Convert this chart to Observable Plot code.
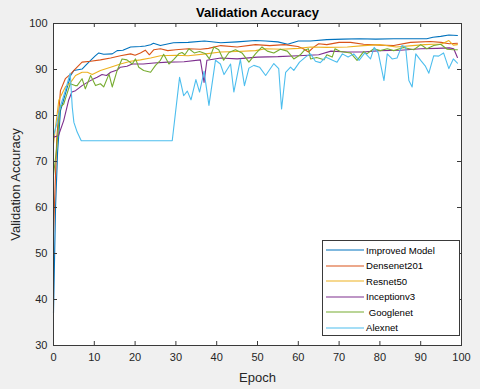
<!DOCTYPE html>
<html><head><meta charset="utf-8">
<script src="https://cdn.jsdelivr.net/npm/d3@7"></script>
<script src="https://cdn.jsdelivr.net/npm/@observablehq/plot@0.6"></script>
<style>
body{margin:0;background:#f0f0f0;font-family:"Liberation Sans",Arial,sans-serif;}
#wrap{position:relative;width:480px;height:389px;overflow:hidden;}
#legend{position:absolute;left:322px;top:240px;width:136px;height:94px;background:#fff;border:1px solid #3a3a3a;font-size:9.6px;color:#000;}
.entry{position:absolute;left:3px;height:14px;display:flex;align-items:center;white-space:pre;}
.entry svg{margin-right:2px;}
</style></head><body><div id="wrap"></div>
<script>
const xTicks = [0,10,20,30,40,50,60,70,80,90,100];
const yTicks = [30,40,50,60,70,80,90,100];
const seriesNames = ["Improved Model","Densenet201","Resnet50","Inceptionv3"," Googlenet","Alexnet"];
const seriesColors = ["#0072BD","#D95319","#EDB120","#7E2F8E","#77AC30","#4DBEEE"];

const impEpoch = [0,0.5,1,1.7,2.9,4.2,5,7,8,9.1,10.3,11.1,12.3,14.4,15.6,17,18.9,21.3,22.5,23.8,24.5,26.2,29.4,33,37,41,45,49.5,52,55,57.4,60,63,67,71,75,79,83.4,87,91.5,93,94.9,96.9,99];
const impAcc   = [37,60,72,81,84.7,88.7,89.8,90.1,91,92,93,93.6,93.3,93.4,94.1,94.2,94.9,95,95.1,95.4,95.7,95.2,95.8,95.9,96.2,95.8,96,96.3,96.2,96,95.5,96.2,96.2,96.5,96.6,96.7,96.6,96.7,96.7,96.7,97,97.2,97.5,97.4];

const denEpoch = [0,0.8,1.7,2.9,4.2,5,7,9.1,11.5,14,16.4,18.9,20,21.3,22.5,23.5,24.6,26.2,28,30,33,36,38,41,45,49.5,53,56.6,59.9,61,62.5,63.7,65,67,70,72.8,76,80,83.4,87.5,92.4,95,97,99];
const denAcc   = [54.5,75,85.4,88,89,89.8,91.6,91.8,92.1,92.5,93,93.4,93.1,93.6,94.2,93.2,94.3,94.5,94.1,94.3,94.5,94.4,94.6,95.2,94.9,95.4,95.2,95.4,95,94.6,93.8,94.8,95.6,95.4,95.9,95.9,95.5,95.3,95.2,95.9,96.1,95.9,95.6,95.7];

const resEpoch = [0,1.3,2.9,4.2,5.4,7,8.3,9.5,11.5,14,16.4,18.9,21.3,23.8,26.2,30,33,37.3,41,45,49.5,52,56,60,63,67,72,76,80,84,88,91,93,95,96.9,98,99];
const resAcc   = [73.8,83.3,86.2,87.2,88.7,89.4,89.4,88.9,89.8,90.5,91.2,91.8,92.1,92.5,93,93.1,93,93.4,93.8,93.9,94.1,94.5,94.4,94.6,94.9,94.8,94.9,95.2,95.4,94.9,95.2,95.4,95.5,95.5,96.3,95.3,95.4];

const incEpoch = [0,1.2,2.5,3.7,4.5,5.4,7,8.3,9.5,10.7,11.9,13,14,15.6,16.4,18,19.3,22,24.6,28,32,36,36.9,37.6,41,45,50,55,60,65,68,72,76,80,85,90,94,97,98.1,99];
const incAcc   = [75.3,75.6,78.9,83.3,85.1,85.4,86.5,87.2,87.8,88.3,88.9,88.7,89.4,89.9,90.5,90.7,91.2,91.2,91.4,91.6,91.7,92.1,87.2,92,92.5,92.3,92.7,92.8,93,93.2,94,93.8,93.8,94.1,94.2,94.5,94.6,94.7,94.5,92.6];

const gooEpoch = [0,0.8,1.6,2.5,3.3,4.1,5.3,5.8,7,7.8,9.1,10.3,11.5,12.3,13.6,14.4,15.6,16.8,18,19.3,20.1,20.9,22.1,23.8,25,26.2,27,28.3,29.5,30.7,31.5,32.2,33.2,34.5,35.8,37.3,38.2,39.3,40.5,41.7,43,44.6,46.2,47.9,49.5,51.1,52.4,54,55.6,57.3,58.9,60.5,61.5,62.5,63,64.5,66.3,67,68.3,69,70.3,72.8,74.4,76,76.8,78.5,80.1,81.8,83.4,85.8,88.3,90,91.5,93.2,94.9,96.5,98,99];
const gooAcc   = [67,73.1,81.8,82.5,84.7,86.9,86.5,86.5,88,85.8,88.7,86.5,86.9,86.2,89,86.2,89.8,92.3,92.1,91.2,92.3,90.5,89.8,89.4,90.9,92,93.3,91.2,92.2,93.4,93.7,93.2,94.5,93.6,93.9,93.4,92.3,94.9,94.3,92,93.7,94.3,93.6,91.6,93.4,94.9,94,93.6,94.4,94,92.3,93.2,94.2,94.5,92.3,92.6,92.1,93.2,92.7,94.5,93.9,93.6,92,93.9,93.4,94.5,94.1,94.5,94.1,94.8,94.3,95.4,94.5,95.2,95.5,94.4,94.3,94.3];

const alexEpoch = [0,0.8,1.6,2.9,3.7,4.1,4.6,5,5.8,6.8,29.1,30.9,31.9,32.8,33.7,34.9,35.8,36.9,38.1,39.7,40.9,41.8,43.4,44.2,45.8,46.8,47.9,49.1,50.5,52,54,55.2,55.9,56.9,58.1,58.9,60.3,61.9,63,64.2,65.4,66.7,68,69.5,70.8,72.2,73.6,74.9,76.3,77.7,78.6,79.6,81,81.8,83,84.2,85.4,86.3,87.1,87.9,88.8,90,91.1,92,93.2,94.4,95.6,96.9,98,99];
const alexAcc   = [75.6,78.2,81.8,85.4,88,89.2,81.8,78.5,76.4,74.5,74.5,88.3,84.3,85.3,83.4,87.8,85.1,89.6,82.2,92,91.2,88.9,91.2,85.1,92.2,86.5,90.3,90.9,90.5,88.7,91.3,90.2,81.4,89.4,90.5,89.8,91.6,92.8,93.4,91.8,91.5,92.7,92.2,91.6,93.4,92.7,93.4,92,93.6,92.3,94.8,93.6,87.6,93.4,92.3,92.5,95.2,94.9,87.6,86.2,93.4,92,90.8,89.2,93,92.9,93.6,90.2,92.3,91.4];

const seriesX = [impEpoch, denEpoch, resEpoch, incEpoch, gooEpoch, alexEpoch];
const seriesY = [impAcc, denAcc, resAcc, incAcc, gooAcc, alexAcc];

const rows = [];
seriesNames.forEach((name, i) => {
  seriesX[i].forEach((e, j) => rows.push({name, epoch: e, acc: seriesY[i][j]}));
});

const W = 480, H = 389, mL = 53, mR = 19, mT = 23, mB = 44;
const tickPx = 4;
const tx = tickPx * 100 / (W - mL - mR);
const ty = tickPx * 70 / (H - mT - mB);
const axisColor = "#3a3a3a";

const chart = Plot.plot({
  width: W, height: H,
  marginLeft: mL, marginRight: mR, marginTop: mT, marginBottom: mB,
  style: {background: "#f0f0f0", fontFamily: "'Liberation Sans', Arial, sans-serif", fontSize: "11px", color: "#262626"},
  x: {domain: [0, 100]},
  y: {domain: [30, 100]},
  color: {domain: seriesNames, range: seriesColors},
  marks: [
    Plot.frame({fill: "white", stroke: "none"}),
    Plot.line(rows, {x: "epoch", y: "acc", z: "name", stroke: "name", strokeWidth: 1.1}),
    Plot.ruleX(xTicks, {x: d => d, y1: 30, y2: 30 + ty, stroke: axisColor}),
    Plot.ruleX(xTicks, {x: d => d, y1: 100, y2: 100 - ty, stroke: axisColor}),
    Plot.ruleY(yTicks, {y: d => d, x1: 0, x2: tx, stroke: axisColor}),
    Plot.ruleY(yTicks, {y: d => d, x1: 100, x2: 100 - tx, stroke: axisColor}),
    Plot.frame({stroke: axisColor, strokeWidth: 1}),
    Plot.axisX(xTicks, {tickSize: 0, tickPadding: 8, label: null, fill: "#262626"}),
    Plot.axisY(yTicks, {tickSize: 0, tickPadding: 6, label: null, fill: "#262626"}),
    Plot.text(["Validation Accuracy"], {frameAnchor: "top", lineAnchor: "middle", textAnchor: "middle", dy: -11, fontWeight: "bold", fontSize: 13, fill: "#000"}),
    Plot.text(["Epoch"], {frameAnchor: "bottom", lineAnchor: "middle", textAnchor: "middle", dy: 32, fontSize: 13, fill: "#262626"}),
    Plot.text(["Validation Accuracy"], {frameAnchor: "left", lineAnchor: "middle", textAnchor: "middle", dx: -38, rotate: -90, fontSize: 13, fill: "#262626"})
  ]
});

const wrap = document.getElementById("wrap");
wrap.appendChild(chart);

const legend = document.createElement("div");
legend.id = "legend";
const centers = [9, 24.5, 40, 55.5, 71, 86.5];
seriesNames.forEach((name, i) => {
  const e = document.createElement("div");
  e.className = "entry";
  e.style.top = (centers[i] - 7) + "px";
  e.innerHTML = `<svg width="38" height="4"><line x1="0" x2="38" y1="2" y2="2" stroke="${seriesColors[i]}" stroke-width="1.2"/></svg><span>${name}</span>`;
  legend.appendChild(e);
});
wrap.appendChild(legend);
</script>
</body></html>
